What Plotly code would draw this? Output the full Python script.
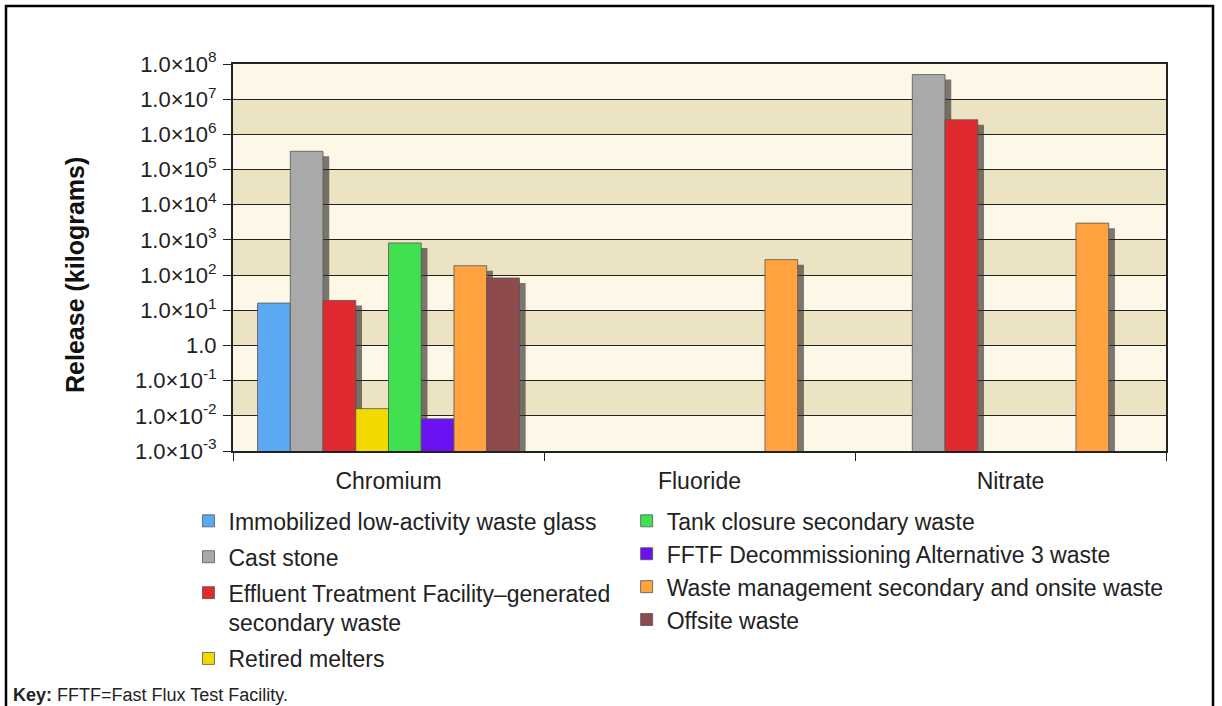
import plotly.graph_objects as go

categories = ["Chromium", "Fluoride", "Nitrate"]

series_names = [
    "Immobilized low-activity waste glass",
    "Cast stone",
    "Effluent Treatment Facility–generated<br>secondary waste",
    "Retired melters",
    "Tank closure secondary waste",
    "FFTF Decommissioning Alternative 3 waste",
    "Waste management secondary and onsite waste",
    "Offsite waste",
]

ilaw_glass = [16, None, None]
cast_stone = [3.3e5, None, 5.0e7]
etf_waste = [19, None, 2.6e6]
retired_melters = [0.016, None, None]
tank_closure = [820, None, None]
fftf_waste = [0.0082, None, None]
waste_mgmt = [185, 275, 3000]
offsite_waste = [83, None, None]

series_values = [ilaw_glass, cast_stone, etf_waste, retired_melters,
                 tank_closure, fftf_waste, waste_mgmt, offsite_waste]

colors = ["#5aa9f2", "#a9a9a9", "#e02a30", "#f2d900",
          "#40e050", "#6a12f2", "#ffa23f", "#8e4b4b"]

tick_vals = [1e-3, 1e-2, 1e-1, 1, 1e1, 1e2, 1e3, 1e4, 1e5, 1e6, 1e7, 1e8]
tick_text = ["1.0×10<sup>-3</sup>", "1.0×10<sup>-2</sup>", "1.0×10<sup>-1</sup>", "1.0",
             "1.0×10<sup>1</sup>", "1.0×10<sup>2</sup>", "1.0×10<sup>3</sup>",
             "1.0×10<sup>4</sup>", "1.0×10<sup>5</sup>", "1.0×10<sup>6</sup>",
             "1.0×10<sup>7</sup>", "1.0×10<sup>8</sup>"]

n = len(series_names)
group_w = 0.842
bar_w = group_w / n
shadow_dx = 0.02

fig = go.Figure()

# drop shadows
for k, vals in enumerate(series_values):
    off = -group_w / 2 + k * bar_w
    fig.add_trace(go.Bar(
        x=categories, y=[None if v is None else v * 0.72 for v in vals],
        offset=off + shadow_dx, width=bar_w,
        marker=dict(color="rgba(45,40,35,0.62)", line=dict(width=0)),
        showlegend=False, hoverinfo="skip",
    ))

# bars
for k, (name, vals) in enumerate(zip(series_names, series_values)):
    off = -group_w / 2 + k * bar_w
    fig.add_trace(go.Bar(
        x=categories, y=vals, name=name,
        offset=off, width=bar_w,
        marker=dict(color=colors[k], line=dict(color="#555555", width=0.8)),
        legend="legend" if k < 4 else "legend2",
        legendgroup=f"g{k}",
    ))

# alternating background bands
shapes = []
for i in range(len(tick_vals) - 1):
    shapes.append(dict(
        type="rect", xref="paper", yref="y", x0=0, x1=1,
        y0=tick_vals[i], y1=tick_vals[i + 1], layer="below",
        line=dict(width=0),
        fillcolor="#fcf7e6" if i % 2 == 0 else "#ece3c3",
    ))
# outer frame
shapes.append(dict(type="rect", xref="paper", yref="paper",
                   x0=-0.2433, x1=1.0504, y0=-0.75, y1=1.1499,
                   line=dict(color="black", width=2.5), fillcolor="rgba(0,0,0,0)"))

fig.update_layout(
    width=1222, height=706,
    margin=dict(l=233, r=56, t=64, b=255),
    paper_bgcolor="white", plot_bgcolor="#fcf7e6",
    barmode="overlay",
    font=dict(family="Liberation Sans, Arial, sans-serif", color="#222222"),
    shapes=shapes,
    showlegend=True,
    legend=dict(x=-0.0477, y=-0.125, xanchor="left", yanchor="top",
                font=dict(size=23, color="#222222"), valign="top",
                traceorder="grouped", tracegroupgap=3, itemwidth=30,
                bgcolor="rgba(0,0,0,0)"),
    legend2=dict(x=0.4219, y=-0.125, xanchor="left", yanchor="top",
                 font=dict(size=23, color="#222222"), valign="top",
                 traceorder="grouped", tracegroupgap=0, itemwidth=30,
                 bgcolor="rgba(0,0,0,0)"),
    annotations=[
        dict(text="<b>Release (kilograms)</b>", xref="paper", yref="paper",
             x=-0.1693, y=0.455, xanchor="center", yanchor="middle",
             textangle=-90, showarrow=False,
             font=dict(size=25, color="#111111")),
        dict(text="<b>Key:</b> FFTF=Fast Flux Test Facility.", xref="paper", yref="paper",
             x=-0.2378, y=-0.6305, xanchor="left", yanchor="middle", showarrow=False,
             font=dict(size=18, color="#222222")),
    ],
)

fig.update_yaxes(
    type="log", range=[-3, 8],
    tickvals=tick_vals, ticktext=tick_text,
    ticks="outside", ticklen=8, tickcolor="#222222", tickwidth=1.3,
    tickfont=dict(size=22, color="#222222"),
    ticklabelstandoff=2,
    showgrid=True, gridcolor="#222222", gridwidth=1.3,
    showline=True, linecolor="#222222", linewidth=2, mirror=True,
    zeroline=False,
)
fig.update_xaxes(
    tickson="boundaries", ticks="outside", ticklen=8, tickcolor="#222222", tickwidth=1.3,
    tickfont=dict(size=23, color="#222222"),
    ticklabelstandoff=8,
    showgrid=False,
    showline=True, linecolor="#222222", linewidth=2, mirror=True,
)

fig.write_html("out.html", config={"displayModeBar": False},
               post_script="document.body.style.margin='0px';")
